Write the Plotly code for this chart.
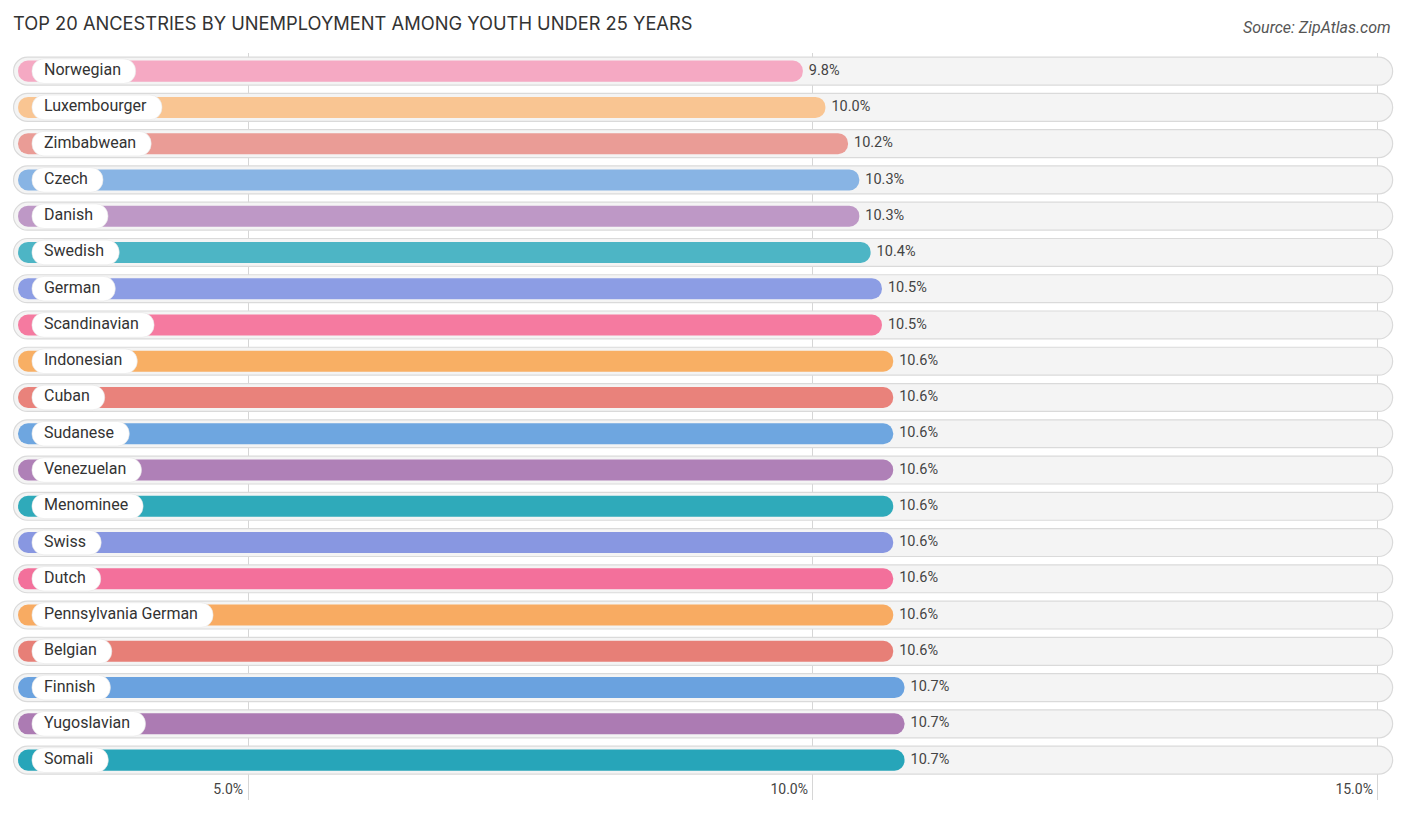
"""Top 20 ancestries by unemployment among youth under 25 years (ZipAtlas style)."""

import plotly.graph_objects as go

TITLE = "TOP 20 ANCESTRIES BY UNEMPLOYMENT AMONG YOUTH UNDER 25 YEARS"
SOURCE = "Source: ZipAtlas.com"

ANCESTRIES = [
    "Norwegian", "Luxembourger", "Zimbabwean", "Czech", "Danish",
    "Swedish", "German", "Scandinavian", "Indonesian", "Cuban",
    "Sudanese", "Venezuelan", "Menominee", "Swiss", "Dutch",
    "Pennsylvania German", "Belgian", "Finnish", "Yugoslavian", "Somali",
]
RATES = [
    9.8, 10.0, 10.2, 10.3, 10.3,
    10.4, 10.5, 10.5, 10.6, 10.6,
    10.6, 10.6, 10.6, 10.6, 10.6,
    10.6, 10.6, 10.7, 10.7, 10.7,
]
COLORS = [
    "#F5A9C3", "#F9C592", "#EA9C96", "#88B4E4", "#BE98C6",
    "#4DB5C5", "#8C9DE4", "#F57AA0", "#F8AF64", "#E9827B",
    "#6EA6E0", "#AF80B7", "#2FAABA", "#8897E1", "#F3709B",
    "#F8AB62", "#E77F77", "#6AA2DF", "#AC7BB3", "#27A5B9",
]
TICKS = [5, 10, 15]

# page body adds an 8px margin, so the figure is 8px smaller than the window
W, H = 1398, 809

# axis geometry (data units)
X_MIN, X_MAX = 2.920, 15.204
TRACK_START, TRACK_END = 2.925, 15.13
BAR_START = 2.965
LABEL_START = 3.088
CAP = 0.11           # rounded cap reaches a little past the value
PX_PER_UNIT = 113.0  # pixels per 1 % on the x axis

# rough Roboto 16px advance widths, used to size the white label pills
CHAR_W = {
    "a": 8.7, "b": 9.0, "c": 8.4, "d": 9.0, "e": 8.5, "f": 5.6, "g": 9.0,
    "h": 8.8, "i": 3.9, "j": 3.8, "k": 8.1, "l": 3.9, "m": 14.0, "n": 8.8,
    "o": 9.1, "p": 9.0, "r": 5.4, "s": 8.3, "t": 5.2, "u": 8.8, "v": 7.7,
    "w": 12.0, "x": 7.9, "y": 7.6, "z": 7.9, " ": 4.0,
    "N": 11.3, "L": 8.6, "Z": 9.6, "C": 10.4, "D": 10.5, "S": 9.7,
    "G": 10.9, "I": 4.4, "V": 10.1, "M": 14.0, "P": 10.1, "B": 10.0,
    "F": 8.9, "Y": 9.6,
}


def text_px(s):
    return sum(CHAR_W.get(c, 8.5) for c in s)


ys = list(range(len(ANCESTRIES)))

fig = go.Figure()

# background pill tracks
fig.add_trace(go.Bar(
    y=ys, x=[TRACK_END - TRACK_START] * len(ys), base=TRACK_START,
    orientation="h", width=0.77,
    marker=dict(color="#F4F4F4", line=dict(color="#DADADA", width=1.2),
                cornerradius=14),
    hoverinfo="skip", showlegend=False,
))

# value bars
fig.add_trace(go.Bar(
    y=ys, x=[r - BAR_START + CAP for r in RATES], base=BAR_START,
    orientation="h", width=0.58,
    marker=dict(color=COLORS, line=dict(width=0), cornerradius=10),
    hovertemplate="%{customdata}: %{text}<extra></extra>",
    customdata=ANCESTRIES, text=[f"{r:.1f}%" for r in RATES],
    textposition="none", showlegend=False,
))

# white label pills
label_w = [(text_px(a) + 27) / PX_PER_UNIT for a in ANCESTRIES]
fig.add_trace(go.Bar(
    y=ys, x=label_w, base=LABEL_START,
    orientation="h", width=0.68,
    marker=dict(color="white", line=dict(color="#E6E6E6", width=0.6),
                cornerradius=12),
    hoverinfo="skip", showlegend=False,
))

# category names
fig.add_trace(go.Scatter(
    y=ys, x=[LABEL_START + 12 / PX_PER_UNIT] * len(ys),
    mode="text", text=ANCESTRIES, textposition="middle right",
    textfont=dict(family="Roboto", size=16, color="#333333"),
    hoverinfo="skip", showlegend=False,
))

# value labels
fig.add_trace(go.Scatter(
    y=ys, x=[r + CAP + 6 / PX_PER_UNIT for r in RATES],
    mode="text", text=[f"{r:.1f}%" for r in RATES],
    textposition="middle right",
    textfont=dict(family="Roboto", size=14.5, color="#444444"),
    hoverinfo="skip", showlegend=False,
))

fig.update_layout(
    width=W, height=H,
    margin=dict(l=5, r=5, t=45, b=17),
    paper_bgcolor="white", plot_bgcolor="white",
    barmode="overlay",
    title=dict(text=TITLE, x=5 / W, xanchor="left", y=1 - 16 / H,
               yanchor="middle",
               font=dict(family="Inter", size=18.3, color="#333333")),
    annotations=[dict(
        text=SOURCE, xref="paper", yref="paper",
        x=(1385 - 5) / (W - 10), y=1 + (45 - 19) / (H - 62),
        xanchor="right", yanchor="middle", showarrow=False,
        font=dict(family="Roboto", size=16, color="#555555", style="italic"),
    )],
    font=dict(family="Roboto"),
)

fig.update_xaxes(
    range=[X_MIN, X_MAX], tickvals=TICKS,
    ticktext=[f"{t:.1f}%" for t in TICKS],
    ticklabelposition="inside left", ticklabelshift=-5, ticklabelstandoff=-3,
    tickfont=dict(family="Roboto", size=14, color="#444444"),
    showgrid=True, gridcolor="#D6D6D6", gridwidth=1,
    zeroline=False, showline=False, ticks="",
)
fig.update_yaxes(
    range=[20.1, -0.5], showticklabels=False, showgrid=False,
    zeroline=False, showline=False,
)

fig.write_html("out.html")
